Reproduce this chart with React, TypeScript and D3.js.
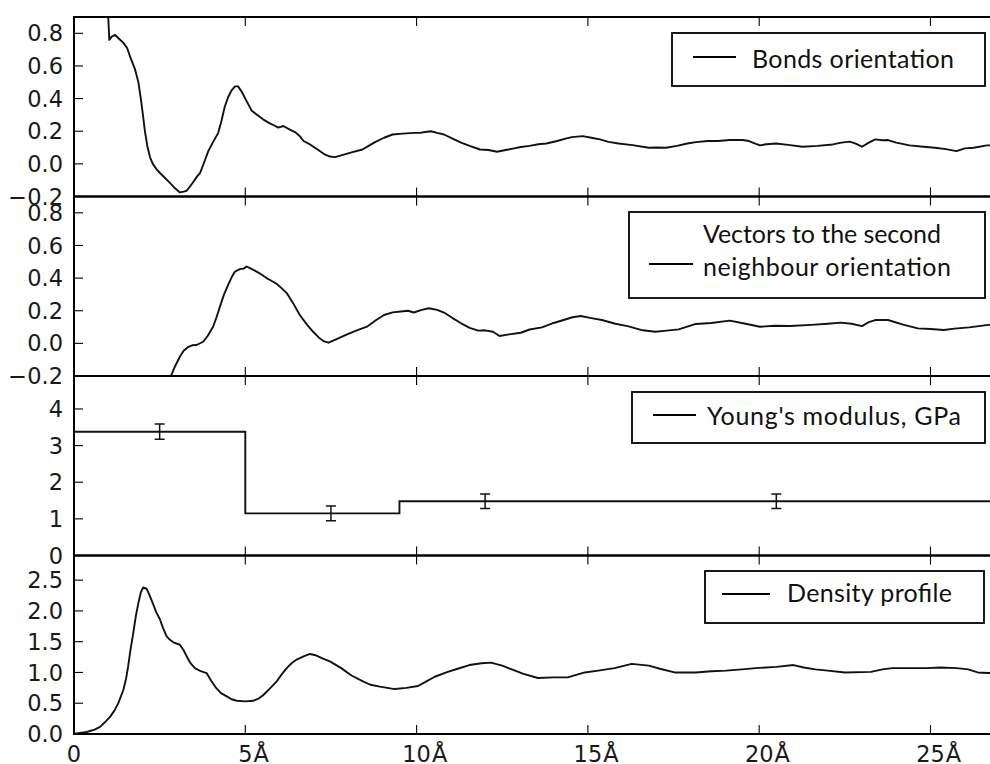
import React from "react";
import * as d3 from "d3";

const xTicks = [0, 5, 10, 15, 20, 25];
const xTickLabels = ["0", "5", "10", "15", "20", "25"];
const orientTicks = [-0.2, 0, 0.2, 0.4, 0.6, 0.8];
const youngTicks = [0, 1, 2, 3, 4];
const densTicks = [0, 0.5, 1, 1.5, 2, 2.5];

const bonds: [number, number][] = [
  [0.98, 1.2], [1.0, 0.9], [1.03, 0.76], [1.1, 0.78], [1.2, 0.79], [1.3, 0.77], [1.45, 0.74], [1.55, 0.71],
  [1.65, 0.65], [1.78, 0.58], [1.88, 0.5], [1.95, 0.4], [2.0, 0.32], [2.07, 0.2], [2.14, 0.11], [2.22, 0.04],
  [2.3, 0.0], [2.4, -0.03], [2.51, -0.056], [2.65, -0.085], [2.8, -0.117], [2.95, -0.15], [3.09, -0.175],
  [3.2, -0.17], [3.29, -0.165], [3.45, -0.12], [3.6, -0.075], [3.68, -0.056], [3.8, 0.01], [3.92, 0.078],
  [4.05, 0.13], [4.21, 0.19], [4.3, 0.26], [4.4, 0.35], [4.5, 0.41], [4.6, 0.45], [4.7, 0.475], [4.79, 0.475],
  [4.9, 0.44], [5.05, 0.38], [5.19, 0.325], [5.35, 0.3], [5.52, 0.273], [5.7, 0.25], [5.85, 0.235], [5.96, 0.222],
  [6.11, 0.232], [6.3, 0.21], [6.45, 0.195], [6.59, 0.17], [6.7, 0.14], [6.89, 0.119], [7.1, 0.09], [7.3, 0.06],
  [7.47, 0.045], [7.62, 0.041], [7.85, 0.055], [8.1, 0.07], [8.42, 0.088], [8.6, 0.11], [8.8, 0.135], [9.05, 0.16],
  [9.3, 0.18], [9.6, 0.185], [9.92, 0.19], [10.1, 0.19], [10.25, 0.195], [10.42, 0.2], [10.6, 0.19], [10.8, 0.18],
  [11.05, 0.155], [11.3, 0.13], [11.55, 0.11], [11.85, 0.088], [12.1, 0.085], [12.35, 0.074], [12.6, 0.085],
  [12.85, 0.095], [13.04, 0.103], [13.3, 0.11], [13.55, 0.12], [13.79, 0.125], [14.1, 0.14], [14.35, 0.155],
  [14.53, 0.164], [14.85, 0.17], [15.1, 0.16], [15.35, 0.15], [15.6, 0.135], [15.9, 0.125], [16.3, 0.115],
  [16.78, 0.099], [17.0, 0.1], [17.28, 0.099], [17.6, 0.11], [17.9, 0.125], [18.15, 0.133], [18.5, 0.14],
  [18.8, 0.14], [19.14, 0.146], [19.52, 0.146], [19.7, 0.14], [20.02, 0.113], [20.2, 0.12], [20.5, 0.125],
  [20.9, 0.115], [21.27, 0.105], [21.7, 0.11], [22.15, 0.119], [22.4, 0.13], [22.64, 0.136], [22.8, 0.125],
  [23.0, 0.105], [23.2, 0.13], [23.39, 0.15], [23.6, 0.145], [23.76, 0.146], [24.0, 0.13], [24.39, 0.113],
  [24.8, 0.105], [25.13, 0.099], [25.45, 0.09], [25.76, 0.078], [26.0, 0.095], [26.26, 0.099], [26.65, 0.113],
  [27.0, 0.115],
];

const vectors: [number, number][] = [
  [2.78, -0.25], [2.82, -0.205], [2.95, -0.14], [3.09, -0.082], [3.2, -0.045], [3.34, -0.021], [3.45, -0.012],
  [3.58, -0.01], [3.77, 0.01], [3.9, 0.045], [4.06, 0.102], [4.16, 0.16], [4.26, 0.225], [4.38, 0.3], [4.5, 0.359],
  [4.6, 0.405], [4.7, 0.44], [4.84, 0.455], [4.95, 0.458], [5.04, 0.471], [5.15, 0.46], [5.33, 0.44], [5.45, 0.425],
  [5.62, 0.4], [5.75, 0.385], [5.91, 0.365], [6.05, 0.34], [6.21, 0.308], [6.4, 0.245], [6.59, 0.174], [6.8, 0.115],
  [6.98, 0.071], [7.15, 0.035], [7.3, 0.012], [7.43, 0.004], [7.65, 0.025], [7.92, 0.051], [8.2, 0.075],
  [8.55, 0.102], [8.8, 0.14], [9.05, 0.174], [9.3, 0.19], [9.54, 0.195], [9.75, 0.2], [9.92, 0.189], [10.15, 0.205],
  [10.36, 0.215], [10.6, 0.205], [10.8, 0.189], [11.05, 0.155], [11.3, 0.123], [11.55, 0.095], [11.8, 0.078],
  [12.0, 0.08], [12.23, 0.071], [12.42, 0.045], [12.7, 0.055], [13.04, 0.065], [13.3, 0.085], [13.66, 0.098],
  [14.0, 0.125], [14.29, 0.143], [14.55, 0.16], [14.79, 0.168], [15.1, 0.155], [15.41, 0.143], [15.8, 0.12],
  [16.16, 0.106], [16.6, 0.08], [16.97, 0.071], [17.3, 0.078], [17.65, 0.086], [18.15, 0.119], [18.6, 0.125],
  [19.14, 0.139], [19.64, 0.119], [20.02, 0.102], [20.45, 0.108], [20.9, 0.106], [21.52, 0.113], [22.0, 0.12],
  [22.38, 0.127], [22.7, 0.12], [23.0, 0.106], [23.2, 0.13], [23.39, 0.143], [23.76, 0.143], [24.2, 0.115],
  [24.63, 0.092], [25.0, 0.088], [25.39, 0.082], [25.7, 0.09], [26.13, 0.098], [26.69, 0.113], [27.0, 0.115],
];

const density: [number, number][] = [
  [0, 0.0], [0.03, 0.007], [0.37, 0.033], [0.6, 0.07], [0.76, 0.115], [0.9, 0.19], [1.05, 0.278], [1.18, 0.38],
  [1.29, 0.497], [1.44, 0.715], [1.52, 0.9], [1.58, 1.097], [1.65, 1.37], [1.73, 1.64], [1.8, 1.9], [1.88, 2.13],
  [1.95, 2.3], [2.02, 2.38], [2.12, 2.36], [2.2, 2.26], [2.31, 2.11], [2.4, 1.98], [2.51, 1.86], [2.6, 1.72],
  [2.7, 1.59], [2.8, 1.53], [2.9, 1.49], [3.09, 1.45], [3.2, 1.36], [3.29, 1.26], [3.4, 1.15], [3.53, 1.07],
  [3.7, 1.02], [3.87, 0.99], [4.0, 0.87], [4.16, 0.74], [4.3, 0.66], [4.46, 0.61], [4.6, 0.565], [4.75, 0.54],
  [5.0, 0.53], [5.23, 0.54], [5.4, 0.58], [5.52, 0.63], [5.7, 0.73], [5.91, 0.85], [6.05, 0.96], [6.21, 1.07],
  [6.35, 1.15], [6.5, 1.21], [6.7, 1.26], [6.89, 1.3], [7.05, 1.28], [7.25, 1.23], [7.47, 1.18], [7.8, 1.07],
  [8.1, 0.95], [8.42, 0.86], [8.65, 0.8], [8.93, 0.77], [9.36, 0.73], [9.7, 0.75], [10.04, 0.78], [10.3, 0.86],
  [10.53, 0.93], [10.91, 1.01], [11.2, 1.06], [11.54, 1.12], [11.9, 1.15], [12.17, 1.16], [12.5, 1.11],
  [12.78, 1.05], [13.1, 0.98], [13.54, 0.91], [14.0, 0.92], [14.41, 0.92], [14.91, 1.0], [15.3, 1.03],
  [15.78, 1.07], [16.28, 1.14], [16.78, 1.11], [17.1, 1.06], [17.53, 1.0], [18.15, 1.0], [18.6, 1.02],
  [19.03, 1.03], [19.5, 1.05], [19.9, 1.07], [20.5, 1.09], [21.0, 1.12], [21.3, 1.08], [21.64, 1.05], [22.0, 1.03],
  [22.51, 1.0], [23.26, 1.01], [23.6, 1.05], [23.89, 1.07], [24.4, 1.07], [24.89, 1.07], [25.3, 1.08],
  [25.76, 1.07], [26.1, 1.05], [26.38, 1.0], [26.69, 0.99], [27.0, 0.99],
];

const stepEdges = [0, 5, 9.5, 27];
const stepValues = [3.38, 1.15, 1.48];
const errX = [2.5, 7.5, 12, 20.5];
const errY = [3.38, 1.15, 1.48, 1.48];
const errE = [0.21, 0.2, 0.2, 0.2];

const W = 990;
const H = 764;
const LEFT = 74;
const RIGHT = 999;
const TOPS = [17, 196.5, 376, 555.5, 734];

const x = d3.scaleLinear().domain([0, 27]).range([LEFT, RIGHT]);

const TICK_FONT = "'DejaVu Sans', sans-serif";
const LEG_FONT = "Lato, 'Open Sans', sans-serif";
const LW = 1.9;

function fmt1(v: number) {
  const s = v.toFixed(1);
  return v < 0 ? "\u2212" + s.slice(1) : s;
}

type PanelProps = {
  idx: number;
  domain: [number, number];
  ticks: number[];
  label: (v: number) => string;
  children: (y: d3.ScaleLinear<number, number>) => React.ReactNode;
};

function Panel({ idx, domain, ticks, label, children }: PanelProps) {
  const top = TOPS[idx];
  const bottom = TOPS[idx + 1];
  const y = d3.scaleLinear().domain(domain).range([bottom, top]);
  const clipId = `clip${idx}`;
  return (
    <g>
      <defs>
        <clipPath id={clipId}>
          <rect x={LEFT} y={top} width={RIGHT - LEFT} height={bottom - top} />
        </clipPath>
      </defs>
      <g clipPath={`url(#${clipId})`}>{children(y)}</g>
      {ticks.map((t) => (
        <g key={"y" + t}>
          <line x1={LEFT} x2={LEFT + 9} y1={y(t)} y2={y(t)} stroke="#000" strokeWidth={1.1} />
          <line x1={RIGHT - 9} x2={RIGHT} y1={y(t)} y2={y(t)} stroke="#000" strokeWidth={1.1} />
          <text x={63} y={y(t)} dy="0.36em" textAnchor="end" fontFamily={TICK_FONT} fontSize={22.5} fill="#1a1a1a">
            {label(t)}
          </text>
        </g>
      ))}
      {xTicks.map((t) => (
        <g key={"x" + t}>
          <line x1={x(t)} x2={x(t)} y1={top} y2={top + 9} stroke="#000" strokeWidth={1.1} />
          <line x1={x(t)} x2={x(t)} y1={bottom} y2={bottom - 9} stroke="#000" strokeWidth={1.1} />
        </g>
      ))}
      <rect x={LEFT} y={top} width={RIGHT - LEFT} height={bottom - top} fill="none" stroke="#000" strokeWidth={2} />
    </g>
  );
}

type LegendProps = {
  box: [number, number, number, number];
  line: [number, number, number];
  textX: number;
  lines: { text: string; y: number; w: number }[];
};

function Legend({ box, line, textX, lines }: LegendProps) {
  const [x0, y0, x1, y1] = box;
  return (
    <g>
      <rect x={x0} y={y0} width={x1 - x0} height={y1 - y0} fill="#fff" stroke="#000" strokeWidth={1.8} />
      <line x1={line[0]} x2={line[1]} y1={line[2]} y2={line[2]} stroke="#000" strokeWidth={LW} />
      {lines.map((l, i) => (
        <text
          key={i}
          x={textX}
          y={l.y}
          fontFamily={LEG_FONT}
          fontSize={25}
          fill="#111"
          textLength={l.w}
          lengthAdjust="spacing"
        >
          {l.text}
        </text>
      ))}
    </g>
  );
}

export default function App() {
  const curve = (data: [number, number][], y: d3.ScaleLinear<number, number>) =>
    d3
      .line<[number, number]>()
      .x((d) => x(d[0]))
      .y((d) => y(d[1]))
      .curve(d3.curveLinear)(data) || "";

  const stepPath = (y: d3.ScaleLinear<number, number>) => {
    const pts: [number, number][] = [];
    stepValues.forEach((v, i) => {
      pts.push([stepEdges[i], v]);
      pts.push([stepEdges[i + 1], v]);
    });
    return d3
      .line<[number, number]>()
      .x((d) => x(d[0]))
      .y((d) => y(d[1]))(pts) || "";
  };

  return (
    <svg width={W} height={H} style={{ position: "absolute", left: 0, top: 0, background: "#fff" }}>
      <rect x={0} y={0} width={W} height={H} fill="#fff" />
      <Panel idx={0} domain={[-0.2, 0.9]} ticks={orientTicks} label={fmt1}>
        {(y) => <path d={curve(bonds, y)} fill="none" stroke="#111" strokeWidth={LW} strokeLinejoin="round" />}
      </Panel>
      <Panel idx={1} domain={[-0.2, 0.9]} ticks={orientTicks} label={fmt1}>
        {(y) => <path d={curve(vectors, y)} fill="none" stroke="#111" strokeWidth={LW} strokeLinejoin="round" />}
      </Panel>
      <Panel idx={2} domain={[0, 4.9]} ticks={youngTicks} label={(v) => String(v)}>
        {(y) => (
          <g>
            <path d={stepPath(y)} fill="none" stroke="#111" strokeWidth={LW} />
            {errX.map((ex, i) => (
              <g key={i} stroke="#111" strokeWidth={1.5}>
                <line x1={x(ex)} x2={x(ex)} y1={y(errY[i] - errE[i])} y2={y(errY[i] + errE[i])} />
                <line x1={x(ex) - 5} x2={x(ex) + 5} y1={y(errY[i] - errE[i])} y2={y(errY[i] - errE[i])} />
                <line x1={x(ex) - 5} x2={x(ex) + 5} y1={y(errY[i] + errE[i])} y2={y(errY[i] + errE[i])} />
              </g>
            ))}
          </g>
        )}
      </Panel>
      <Panel idx={3} domain={[0, 2.9]} ticks={densTicks} label={fmt1}>
        {(y) => <path d={curve(density, y)} fill="none" stroke="#111" strokeWidth={LW} strokeLinejoin="round" />}
      </Panel>

      {xTicks.map((t, i) => {
        const lab = xTickLabels[i];
        const numW = lab.length * 0.636 * 22.5;
        return (
          <text key={t} x={x(t) - numW / 2} y={762} fontFamily={TICK_FONT} fontSize={22.5} fill="#1a1a1a">
            {lab}
            {t > 0 ? <tspan dx={1}>Å</tspan> : null}
          </text>
        );
      })}

      <Legend
        box={[672, 33, 985, 86]}
        line={[693, 736, 57]}
        textX={752}
        lines={[{ text: "Bonds orientation", y: 68, w: 202 }]}
      />
      <Legend
        box={[629, 212, 985, 298]}
        line={[649, 693, 264]}
        textX={703}
        lines={[
          { text: "Vectors to the second", y: 243, w: 238 },
          { text: "neighbour orientation", y: 276, w: 248 },
        ]}
      />
      <Legend
        box={[632, 392, 985, 443]}
        line={[653, 696, 415]}
        textX={707}
        lines={[{ text: "Young's modulus, GPa", y: 425, w: 254 }]}
      />
      <Legend
        box={[705, 571, 984, 623]}
        line={[722, 770, 594]}
        textX={787}
        lines={[{ text: "Density profile", y: 602, w: 165 }]}
      />
    </svg>
  );
}
